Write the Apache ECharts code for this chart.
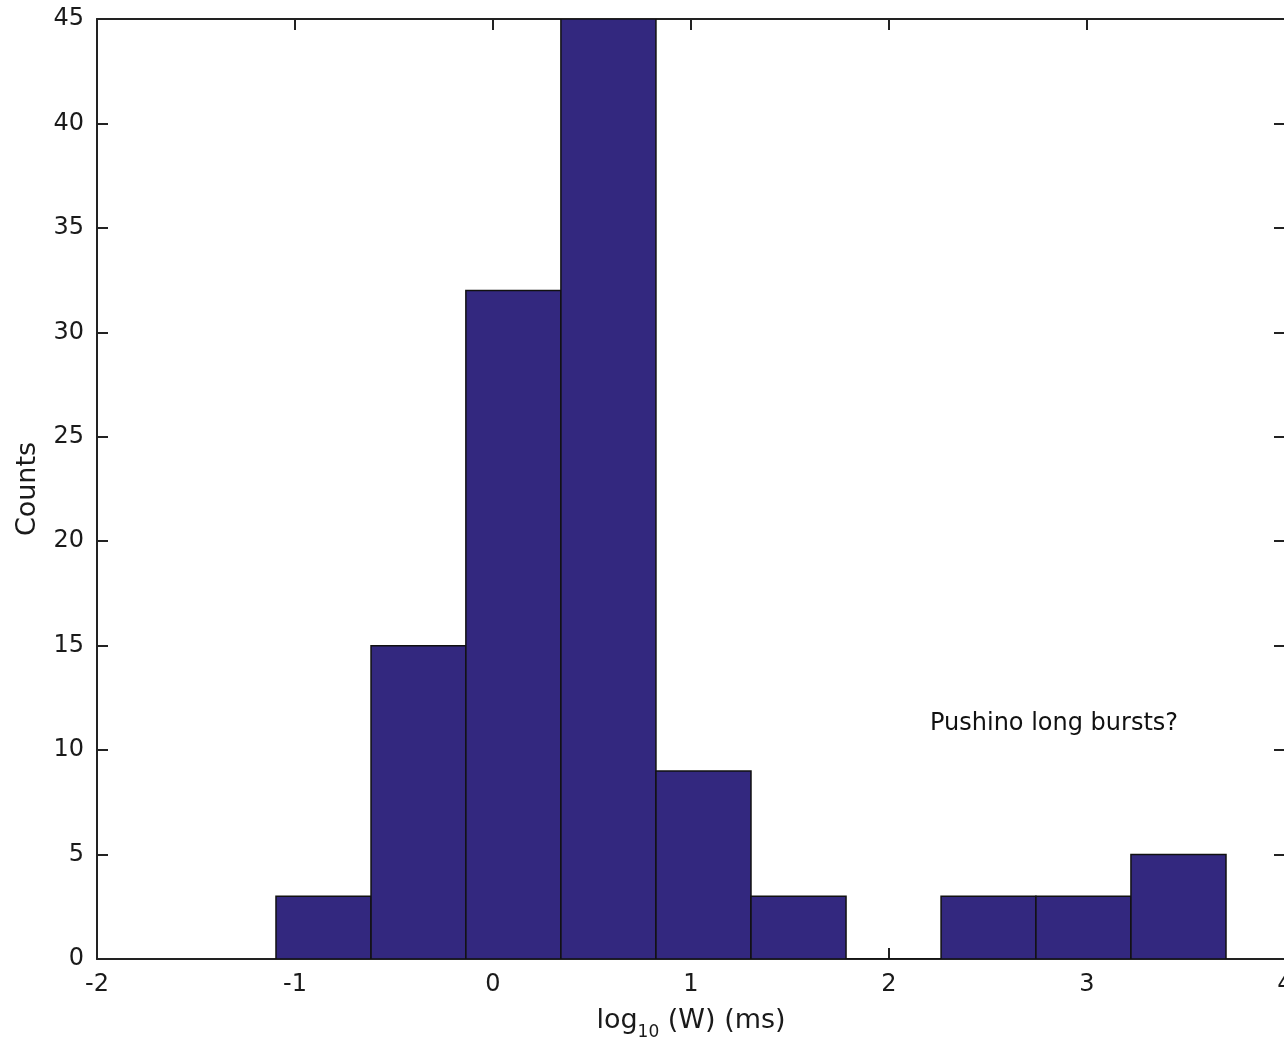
<!DOCTYPE html>
<html>
<head>
<meta charset="utf-8">
<script src="https://cdn.jsdelivr.net/npm/echarts@6/dist/echarts.min.js"></script>
<style>
html,body{margin:0;padding:0;background:#fff;overflow:hidden;width:1284px;height:1041px;}
#chart{width:1284px;height:1041px;}
</style>
</head>
<body>
<div id="chart"></div>
<script>
// Histogram bin edges (log10 W in ms) and counts
const binEdges = [-1.096, -0.616, -0.137, 0.343, 0.823, 1.303, 1.783, 2.263, 2.742, 3.222, 3.702];
const counts = [3, 15, 32, 45, 9, 3, 0, 3, 3, 5];
const xTicks = [-2, -1, 0, 1, 2, 3, 4];
const yTicks = [0, 5, 10, 15, 20, 25, 30, 35, 40, 45];
const annotationText = 'Pushino long bursts?';
const annotationPos = [2.207, 11.25];

const FONT = 'DejaVu Sans, Liberation Sans, Arial, sans-serif';
const TXT = '#1a1a1a';

const barData = counts.map((c, i) => [binEdges[i], binEdges[i + 1], c]);

const chart = echarts.init(document.getElementById('chart'));

const axisCommon = {
  axisLine: { show: true, onZero: false, lineStyle: { color: '#222', width: 2 } },
  axisTick: { show: true, inside: true, length: 11, lineStyle: { color: '#222', width: 2 } },
  splitLine: { show: false }
};

chart.setOption({
  animation: false,
  backgroundColor: '#fff',
  grid: { left: 97, top: 19, width: 1188, height: 940, containLabel: false, outerBoundsMode: 'none' },
  xAxis: [
    Object.assign({}, axisCommon, {
      type: 'value', min: xTicks[0], max: xTicks[xTicks.length - 1], interval: 1,
      position: 'bottom',
      axisLabel: { show: true, margin: 14, fontSize: 24, fontFamily: FONT, color: TXT },
      name: '{a|log}{s|10}{a| (W) (ms)}',
      nameLocation: 'middle', nameGap: 45,
      nameTextStyle: {
        fontFamily: FONT, color: TXT,
        rich: {
          a: { fontSize: 27, fontFamily: FONT, color: TXT, lineHeight: 32 },
          s: { fontSize: 17, fontFamily: FONT, color: TXT, lineHeight: 32, padding: [22, 0, 0, 0] }
        }
      }
    }),
    Object.assign({}, axisCommon, {
      type: 'value', min: xTicks[0], max: xTicks[xTicks.length - 1], interval: 1,
      position: 'top', axisLabel: { show: false }
    })
  ],
  yAxis: [
    Object.assign({}, axisCommon, {
      type: 'value', min: yTicks[0], max: yTicks[yTicks.length - 1], interval: 5,
      position: 'left',
      axisLabel: { show: true, margin: 13, fontSize: 24, fontFamily: FONT, color: TXT },
      name: 'Counts', nameLocation: 'middle', nameGap: 56, nameRotate: 90,
      nameTextStyle: { fontSize: 27, fontFamily: FONT, color: TXT }
    }),
    Object.assign({}, axisCommon, {
      type: 'value', min: yTicks[0], max: yTicks[yTicks.length - 1], interval: 5,
      position: 'right', axisLabel: { show: false }
    })
  ],
  series: [
    {
      type: 'custom',
      xAxisIndex: 0, yAxisIndex: 0,
      data: barData,
      encode: { x: [0, 1], y: 2 },
      clip: true,
      renderItem: function (params, api) {
        const p0 = api.coord([api.value(0), 0]);
        const p1 = api.coord([api.value(1), api.value(2)]);
        return {
          type: 'rect',
          shape: { x: p0[0], y: p1[1], width: p1[0] - p0[0], height: p0[1] - p1[1] },
          style: { fill: '#33287f', stroke: '#111', lineWidth: 1.5 }
        };
      }
    },
    {
      type: 'scatter',
      xAxisIndex: 0, yAxisIndex: 0,
      symbolSize: 0,
      data: [annotationPos],
      silent: true,
      itemStyle: { opacity: 1 },
      label: {
        show: true, position: 'right', distance: 0,
        formatter: annotationText,
        fontSize: 24, fontFamily: FONT, color: '#111'
      }
    }
  ]
});
</script>
</body>
</html>
